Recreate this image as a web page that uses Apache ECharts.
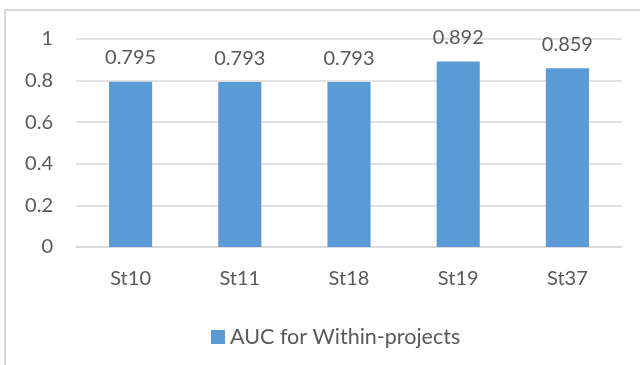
<!DOCTYPE html>
<html>
<head>
<meta charset="utf-8">
<script src="https://cdn.jsdelivr.net/npm/echarts@6/dist/echarts.min.js"></script>
<style>
  html, body { margin: 0; padding: 0; background: #fff; }
  #chart { width: 640px; height: 365px; }
</style>
</head>
<body>
<div id="chart"></div>
<script>
// Study categories and their AUC scores
const categories = ['St10', 'St11', 'St18', 'St19', 'St37'];
const aucValues = [0.795, 0.793, 0.793, 0.892, 0.859];
const seriesName = 'AUC for Within-projects';
const yTicks = { min: 0, max: 1, interval: 0.2 };

const textColor = '#595959';
const fontFamily = 'Lato, "Open Sans", sans-serif';

const chart = echarts.init(document.getElementById('chart'), null, { renderer: 'canvas' });
chart.setOption({
  animation: false,
  backgroundColor: '#ffffff',
  grid: { left: 76, right: 18, top: 39, bottom: 118 },
  graphic: [{
    type: 'polyline',
    shape: { points: [[5, 365], [5, 10], [640, 10]] },
    style: { stroke: '#d9d9d9', lineWidth: 2, fill: null },
    silent: true
  }],
  legend: {
    data: [seriesName],
    top: 321,
    left: 206,
    icon: 'rect',
    itemWidth: 14,
    itemHeight: 14,
    itemGap: 6,
    textStyle: { color: textColor, fontSize: 21.5, fontFamily: fontFamily }
  },
  xAxis: {
    type: 'category',
    data: categories,
    axisLine: { show: true, lineStyle: { color: '#d9d9d9', width: 1.5 } },
    axisTick: { show: false },
    axisLabel: { color: textColor, fontSize: 20, fontFamily: fontFamily, margin: 22 }
  },
  yAxis: {
    type: 'value',
    min: yTicks.min,
    max: yTicks.max,
    interval: yTicks.interval,
    axisLine: { show: false },
    axisTick: { show: false },
    splitLine: { lineStyle: { color: '#d9d9d9', width: 1.5 } },
    axisLabel: {
      color: textColor, fontSize: 20, fontFamily: fontFamily, margin: 23,
      formatter: v => String(Math.round(v * 10) / 10)
    }
  },
  series: [{
    name: seriesName,
    type: 'bar',
    data: aucValues,
    barWidth: '39.5%',
    itemStyle: { color: '#5b9bd5' },
    label: {
      show: true,
      position: 'top',
      distance: 14,
      color: textColor,
      fontSize: 20,
      fontFamily: fontFamily,
      formatter: p => p.value.toFixed(3)
    }
  }]
});
</script>
</body>
</html>
